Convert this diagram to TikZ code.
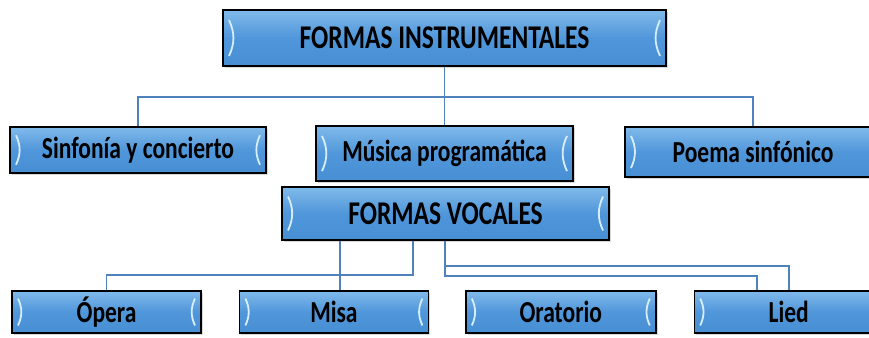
\documentclass[tikz,border=0pt]{standalone}
\usepackage{fontspec}
\setmainfont{Carlito}
\usetikzlibrary{positioning,calc,shadows}

\definecolor{boxtop}{RGB}{128,186,234}
\definecolor{boxmid}{RGB}{80,150,218}
\definecolor{boxbot}{RGB}{72,142,210}
\definecolor{linkblue}{RGB}{79,129,189}
\definecolor{glow}{RGB}{214,238,252}
\newcommand{\tallbox}[1]{\scalebox{1}[1.3]{#1}}

\begin{document}
\begin{tikzpicture}[x=1pt,y=-1pt,
    formbox/.style={draw=black,line width=1.4pt,top color=boxtop,bottom color=boxbot,middle color=boxmid,
        inner sep=0pt,drop shadow={opacity=0.3,shadow xshift=2pt,shadow yshift=-2pt},
        font=\bfseries\fontsize{23.5}{24}\selectfont,
        path picture={
            \draw[glow,line width=1.8pt]
                ($(path picture bounding box.north west)!0.18!(path picture bounding box.south west)+(6pt,0)$)
                to[bend left=25]
                ($(path picture bounding box.north west)!0.82!(path picture bounding box.south west)+(6pt,0)$);
            \draw[glow,line width=1.8pt]
                ($(path picture bounding box.north east)!0.18!(path picture bounding box.south east)+(-6pt,0)$)
                to[bend right=25]
                ($(path picture bounding box.north east)!0.82!(path picture bounding box.south east)+(-6pt,0)$);
        }},
    titlebox/.style={formbox,font=\bfseries\fontsize{25.5}{26}\selectfont},
    link/.style={draw=linkblue,line width=1.6pt}]
        \useasboundingbox (0,0) rectangle (869,337);

        \node[titlebox,minimum width=443pt,minimum height=56pt] (instr) at (444.5,38) {\tallbox{FORMAS INSTRUMENTALES}};

        \node[formbox,minimum width=256pt,minimum height=46pt] (sinf) at (138,150) {\tallbox{Sinfonía y concierto}};
        \node[formbox,minimum width=257pt,minimum height=55pt] (musica) at (444.5,153.5) {\tallbox{Música programática}};
        \node[formbox,minimum width=256pt,minimum height=50pt] (poema) at (753,152) {\tallbox{Poema sinfónico}};

        \node[titlebox,minimum width=327pt,minimum height=53pt] (vocal) at (445.5,213.5) {\tallbox{FORMAS VOCALES}};

        \node[formbox,minimum width=189pt,minimum height=42pt] (opera) at (106.5,312) {\tallbox{Ópera}};
        \node[formbox,minimum width=189pt,minimum height=42pt] (misa) [right=37pt of opera] {\tallbox{Misa}};
        \node[formbox,minimum width=190pt,minimum height=42pt] (orat) [right=36pt of misa] {\tallbox{Oratorio}};
        \node[formbox,minimum width=189pt,minimum height=42pt] (lied) [right=37pt of orat] {\tallbox{Lied}};

        \coordinate (j1) at (444.5,97);
        \coordinate (va) at (340,0);
        \coordinate (h1) at (413,275);
        \coordinate (h2) at (445,276);
        \coordinate (h3) at (445,266);

        \draw[link] (instr.south) -- (j1) -| (sinf.north);
        \draw[link] (j1) -- (musica.north);
        \draw[link] (j1) -| (poema.north);

        \draw[link] (vocal.south -| va) -- (misa.north -| va);
        \draw[link] (vocal.south -| h1) -- (h1) -| (opera.north);
        \draw[link] (vocal.south -| h2) -- (h2) -| ([xshift=-31.5pt]lied.north);
        \draw[link] (h3) -| (lied.north);
    \end{tikzpicture}
\end{document}
